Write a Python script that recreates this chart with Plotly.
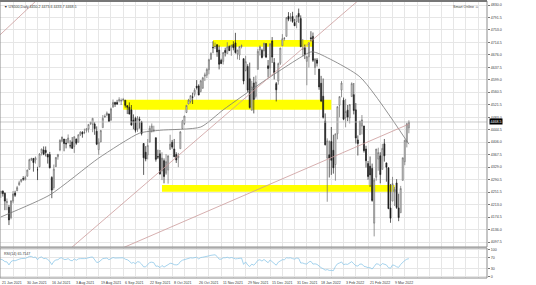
import plotly.graph_objects as go
import pandas as pd

# ---------------- data (US500 daily) ----------------
opens = [4242, 4248, 4255, 4248, 4220, 4205,
         4173, 4224, 4249, 4256, 4274, 4285, 4294, 4290,
         4301, 4322, 4352, 4356, 4351, 4321, 4330, 4373, 4382, 4381, 4369, 4368,
         4297, 4266, 4331, 4361, 4382, 4409, 4416, 4403, 4404, 4395,
         4407, 4393, 4416, 4406, 4429, 4437, 4436, 4442, 4447, 4464,
         4461, 4462, 4440, 4383, 4407, 4451, 4484, 4490, 4493, 4474,
         4514, 4529, 4529, 4534, 4533,
         4536, 4536, 4519, 4514, 4506, 4474, 4480, 4447, 4477, 4469,
         4402, 4375, 4367, 4406, 4439, 4442, 4420, 4362, 4370, 4317,
         4349, 4310, 4320, 4384, 4406, 4385, 4368, 4358, 4386, 4448,
         4464, 4498, 4524, 4532, 4546, 4554, 4579, 4580, 4563, 4573,
         4610, 4613, 4630, 4662, 4699, 4701, 4707, 4691, 4659, 4656,
         4690, 4680, 4702, 4700, 4708, 4713, 4679, 4675, 4702, 4664,
         4628, 4640, 4602, 4505, 4589, 4548, 4631, 4691, 4690, 4688,
         4711, 4642, 4636, 4719, 4652, 4587, 4595, 4650, 4704, 4726,
         4733, 4795, 4788, 4795, 4776,
         4779, 4804, 4788, 4693, 4698, 4656, 4670, 4729, 4733, 4637,
         4660, 4632, 4588, 4548, 4471, 4357, 4367, 4408, 4381, 4337,
         4432, 4520, 4567, 4536, 4482, 4505, 4481, 4547, 4553, 4506,
         4413, 4429, 4456, 4456, 4385, 4340, 4332, 4325, 4156, 4298,
         4354, 4364, 4322, 4401, 4342, 4327, 4203, 4224, 4253, 4280,
         4203, 4188, 4288, 4346, 4407, 4450.2]
highs = [4249, 4255, 4257, 4251, 4232, 4212,
         4226, 4255, 4256, 4271, 4287, 4292, 4301, 4302,
         4321, 4355, 4358, 4357, 4362, 4330, 4372, 4386, 4393, 4393, 4370, 4376,
         4301, 4337, 4360, 4370, 4415, 4423, 4416, 4416, 4430, 4412,
         4422, 4424, 4417, 4430, 4440, 4440, 4448, 4449, 4461, 4468,
         4480, 4468, 4455, 4418, 4444, 4490, 4492, 4501, 4495, 4513,
         4538, 4531, 4537, 4545, 4541,
         4543, 4536, 4521, 4529, 4521, 4492, 4485, 4487, 4485, 4472,
         4403, 4394, 4416, 4457, 4464, 4457, 4420, 4383, 4382, 4375,
         4356, 4369, 4365, 4429, 4413, 4416, 4375, 4373, 4440, 4475,
         4488, 4520, 4540, 4551, 4559, 4573, 4598, 4585, 4598, 4608,
         4621, 4635, 4664, 4684, 4718, 4714, 4709, 4705, 4664, 4685,
         4698, 4715, 4705, 4708, 4718, 4744, 4691, 4702, 4708, 4665,
         4673, 4647, 4652, 4596, 4608, 4612, 4694, 4705, 4695, 4713,
         4711, 4660, 4712, 4731, 4666, 4592, 4652, 4698, 4740, 4731,
         4792, 4808, 4805, 4809, 4787,
         4797, 4819, 4798, 4725, 4708, 4673, 4715, 4749, 4745, 4666,
         4666, 4632, 4611, 4603, 4495, 4418, 4411, 4453, 4429, 4432,
         4516, 4547, 4595, 4544, 4540, 4521, 4524, 4591, 4589, 4527,
         4427, 4472, 4490, 4457, 4395, 4348, 4362, 4340, 4295, 4385,
         4389, 4375, 4401, 4416, 4343, 4328, 4277, 4299, 4268, 4292,
         4247, 4271, 4358, 4412, 4466, 4473.6]
lows = [4233, 4234, 4238, 4196, 4196, 4150,
        4168, 4217, 4237, 4255, 4272, 4281, 4287, 4288,
        4300, 4321, 4348, 4315, 4340, 4289, 4329, 4365, 4366, 4362, 4340, 4325,
        4233, 4259, 4329, 4352, 4378, 4406, 4378, 4387, 4403, 4387,
        4385, 4373, 4398, 4405, 4425, 4420, 4431, 4436, 4436, 4459,
        4437, 4429, 4397, 4367, 4406, 4451, 4482, 4486, 4469, 4473,
        4514, 4515, 4521, 4529, 4521,
        4532, 4513, 4493, 4492, 4457, 4446, 4436, 4438, 4448, 4427,
        4305, 4347, 4353, 4406, 4436, 4437, 4346, 4354, 4306, 4289,
        4279, 4305, 4278, 4383, 4386, 4360, 4342, 4329, 4386, 4448,
        4459, 4496, 4524, 4526, 4524, 4547, 4569, 4551, 4560, 4571,
        4595, 4604, 4616, 4662, 4681, 4694, 4670, 4631, 4648, 4646,
        4671, 4680, 4688, 4673, 4690, 4680, 4662, 4660, 4696, 4585,
        4625, 4561, 4510, 4504, 4495, 4541, 4631, 4674, 4665, 4671,
        4666, 4606, 4611, 4651, 4600, 4532, 4584, 4645, 4704, 4720,
        4733, 4780, 4779, 4775, 4765,
        4758, 4775, 4700, 4671, 4663, 4582, 4637, 4718, 4654, 4614,
        4640, 4568, 4530, 4479, 4396, 4222, 4297, 4305, 4309, 4287,
        4415, 4483, 4545, 4474, 4452, 4471, 4464, 4547, 4492, 4402,
        4365, 4429, 4430, 4374, 4328, 4290, 4268, 4222, 4115, 4287,
        4318, 4279, 4322, 4346, 4284, 4199, 4157, 4224, 4209, 4200,
        4162, 4188, 4288, 4335, 4390, 4433.7]
closes = [4247, 4255, 4247, 4224, 4222, 4166,
          4225, 4246, 4242, 4266, 4281, 4291, 4292, 4297,
          4320, 4352, 4355, 4343, 4358, 4321, 4370, 4385, 4369, 4374, 4360, 4327,
          4258, 4323, 4359, 4368, 4412, 4422, 4402, 4401, 4419, 4395,
          4387, 4423, 4403, 4429, 4437, 4432, 4437, 4448, 4461, 4468,
          4480, 4448, 4400, 4406, 4442, 4480, 4486, 4496, 4470, 4509,
          4529, 4523, 4524, 4537, 4535,
          4538, 4520, 4514, 4493, 4459, 4469, 4443, 4481, 4474, 4433,
          4358, 4354, 4396, 4449, 4456, 4443, 4353, 4360, 4308, 4357,
          4300, 4346, 4364, 4400, 4391, 4361, 4351, 4364, 4438, 4471,
          4487, 4520, 4536, 4550, 4545, 4567, 4575, 4552, 4596, 4605,
          4614, 4631, 4661, 4680, 4698, 4702, 4685, 4647, 4649, 4683,
          4683, 4701, 4689, 4705, 4698, 4683, 4691, 4702, 4704, 4595,
          4655, 4567, 4513, 4577, 4538, 4592, 4687, 4701, 4668, 4712,
          4669, 4634, 4710, 4669, 4621, 4568, 4649, 4697, 4726, 4727,
          4791, 4786, 4793, 4779, 4766,
          4797, 4794, 4701, 4696, 4677, 4670, 4713, 4726, 4659, 4663,
          4650, 4577, 4533, 4483, 4398, 4410, 4357, 4350, 4327, 4432,
          4516, 4547, 4589, 4477, 4501, 4484, 4522, 4587, 4504, 4419,
          4402, 4471, 4475, 4380, 4349, 4300, 4305, 4226, 4289, 4385,
          4374, 4306, 4387, 4364, 4329, 4201, 4171, 4278, 4260, 4204,
          4173, 4263, 4358, 4412, 4463, 4468.5]
rsi14 = [62, 64, 61, 55, 54, 43,
         55, 59, 58, 62, 64, 66, 66, 67,
         70, 74, 74, 70, 72, 62, 70, 72, 66, 67, 63, 56,
         44, 56, 61, 62, 68, 69, 63, 63, 66, 60,
         58, 65, 60, 65, 66, 65, 66, 67, 70, 71,
         72, 62, 52, 53, 60, 66, 67, 68, 62, 67,
         70, 68, 68, 70, 69,
         69, 64, 62, 57, 49, 52, 47, 55, 53, 46,
         36, 36, 44, 52, 53, 51, 38, 39, 33, 41,
         35, 41, 44, 49, 48, 44, 43, 45, 55, 60,
         62, 66, 68, 69, 68, 70, 71, 65, 70, 71,
         72, 73, 76, 78, 80, 80, 74, 64, 64, 69,
         69, 71, 68, 70, 68, 65, 66, 67, 68, 45,
         54, 43, 37, 46, 42, 50, 60, 62, 57, 63,
         56, 51, 61, 55, 48, 42, 53, 59, 62, 62,
         69, 68, 69, 66, 64,
         68, 67, 50, 50, 47, 46, 54, 56, 46, 47,
         45, 37, 33, 29, 24, 26, 23, 23, 22, 37,
         47, 50, 54, 44, 46, 45, 49, 55, 47, 40,
         39, 46, 46, 38, 36, 33, 33, 28, 37, 47,
         46, 40, 48, 46, 43, 33, 31, 43, 41, 36,
         34, 45, 54, 59, 64, 65.7147]

sma50_dates = ["2021-06-14", "2021-07-16", "2021-08-19", "2021-09-16", "2021-09-30",
               "2021-10-28", "2021-11-12", "2021-12-10", "2022-01-12", "2022-01-17",
               "2022-02-15", "2022-03-21"]
sma50_vals = [4175, 4243, 4357, 4434, 4443, 4453, 4506, 4595, 4685, 4682, 4608, 4400]

trend_a_dates = ["2021-06-11", "2021-07-09"]
trend_a_vals = [4734, 4853]
trend_b_dates = ["2021-07-26", "2022-02-21"]
trend_b_vals = [4055, 4870]
trend_c_dates = ["2021-09-06", "2022-03-21"]
trend_c_vals = [4080, 4462]

zone_starts = ["2021-11-05", "2021-09-06", "2021-10-01"]
zone_ends = ["2022-01-13", "2022-01-26", "2022-03-10"]
zone_lows = [4701, 4506, 4253]
zone_highs = [4722, 4537, 4274]

price_ticks = [4830.0, 4791.5, 4753.0, 4714.5, 4676.0, 4637.5, 4599.0, 4560.5, 4521.5, 4483.0,
               4444.5, 4406.0, 4367.5, 4329.0, 4290.5, 4251.5, 4213.0, 4174.5, 4136.0, 4097.5]
rsi_ticks = [0, 30, 70, 100]
date_label_days = ["2021-06-21", "2021-06-30", "2021-07-16", "2021-08-03", "2021-08-19",
                   "2021-09-06", "2021-09-22", "2021-10-08", "2021-10-26", "2021-11-11",
                   "2021-11-29", "2021-12-15", "2021-12-31", "2022-01-18", "2022-02-03",
                   "2022-02-21", "2022-03-09"]
date_label_text = ["21 Jun 2021", "30 Jun 2021", "16 Jul 2021", "3 Aug 2021", "19 Aug 2021",
                   "6 Sep 2021", "22 Sep 2021", "8 Oct 2021", "26 Oct 2021", "11 Nov 2021",
                   "29 Nov 2021", "15 Dec 2021", "31 Dec 2021", "18 Jan 2022", "3 Feb 2022",
                   "21 Feb 2022", "9 Mar 2022"]

n = len(closes)
assert len(opens) == n and len(highs) == n and len(lows) == n and len(rsi14) == n
dates = pd.bdate_range("2021-06-11", periods=n)
assert dates[-1].strftime("%Y-%m-%d") == "2022-03-21", dates[-1]
pos = {d.strftime("%Y-%m-%d"): i for i, d in enumerate(dates)}
xs = list(range(n))

FONT = "Liberation Sans"
GRID = "#e6e6e6"
TXT = "#3a3a3a"
FS = 3.6

fig = go.Figure()

shapes = []
for s, e, lo, hi in zip(zone_starts, zone_ends, zone_lows, zone_highs):
    shapes.append(dict(type="rect", xref="x", yref="y", x0=pos[s], x1=pos[e], y0=lo, y1=hi,
                       fillcolor="#ffff00", line=dict(width=0), layer="between"))

fig.add_trace(go.Scatter(x=[pos[d] for d in sma50_dates], y=sma50_vals, mode="lines",
                         line=dict(color="#777777", width=0.8, shape="spline", smoothing=0.6),
                         xaxis="x", yaxis="y", hoverinfo="skip"))
for td, tv in [(trend_a_dates, trend_a_vals), (trend_b_dates, trend_b_vals), (trend_c_dates, trend_c_vals)]:
    fig.add_trace(go.Scatter(x=[pos[d] for d in td], y=tv, mode="lines",
                             line=dict(color="#cc9a9a", width=0.8),
                             xaxis="x", yaxis="y", hoverinfo="skip"))

fig.add_trace(go.Candlestick(x=xs, open=opens, high=highs, low=lows, close=closes,
                             increasing=dict(line=dict(color="#6a6a6a", width=0.7), fillcolor="#ffffff"),
                             decreasing=dict(line=dict(color="#1a1a1a", width=0.7), fillcolor="#1a1a1a"),
                             whiskerwidth=0, xaxis="x", yaxis="y", hoverinfo="skip"))

fig.add_trace(go.Scatter(x=xs, y=rsi14, mode="lines", line=dict(color="#8ec8e8", width=0.8),
                         xaxis="x", yaxis="y2", hoverinfo="skip"))

last = closes[-1]
shapes.append(dict(type="line", xref="paper", yref="y", x0=0, x1=1, y0=last, y1=last,
                   line=dict(color="#bdbdbd", width=0.8)))

PR_BOT = 31 / 277
RSI_TOP = 30 / 277
shapes.append(dict(type="rect", xref="paper", yref="paper", x0=0, x1=1, y0=PR_BOT, y1=1,
                   line=dict(color="#8c8c8c", width=1)))
shapes.append(dict(type="rect", xref="paper", yref="paper", x0=0, x1=1, y0=0, y1=RSI_TOP,
                   line=dict(color="#8c8c8c", width=1)))
shapes.append(dict(type="line", xref="paper", yref="paper", x0=0, x1=1, y0=1, y1=1,
                   line=dict(color="#777777", width=2)))

ann = []
for d, t in zip(date_label_days, date_label_text):
    xpos = pos[d] if d != "2021-06-21" else 0.8
    ann.append(dict(x=xpos, y=0, xref="x", yref="paper", text=t, showarrow=False,
                    xanchor="left", yanchor="top", yshift=-1,
                    font=dict(size=FS, color=TXT, family=FONT)))
ann.append(dict(x=0.004, y=1, xref="paper", yref="paper", yshift=-2,
                text=f"▼ US500,Daily {opens[-1]:.1f} {highs[-1]:.1f} {lows[-1]:.1f} {closes[-1]:.1f}",
                showarrow=False, xanchor="left", yanchor="top",
                font=dict(size=FS, color=TXT, family=FONT)))
ann.append(dict(x=0.988, y=1, xref="paper", yref="paper", yshift=-2,
                text="Smart Online ☺", showarrow=False, xanchor="right", yanchor="top",
                font=dict(size=FS, color=TXT, family=FONT)))
ann.append(dict(x=0.004, y=RSI_TOP, xref="paper", yref="paper", yshift=-2,
                text=f"RSI(14) {rsi14[-1]:.4f}", showarrow=False, xanchor="left", yanchor="top",
                font=dict(size=FS, color=TXT, family=FONT)))
ann.append(dict(x=1, y=last, xref="paper", yref="y", text=f"{last:.1f}", showarrow=False,
                xanchor="left", yanchor="middle", xshift=2, bgcolor="#000000", borderpad=0.5,
                font=dict(size=FS, color="#ffffff", family=FONT)))

fig.update_layout(
    width=536, height=285,
    margin=dict(l=0, r=49, t=1, b=7),
    paper_bgcolor="white", plot_bgcolor="white",
    showlegend=False,
    font=dict(family=FONT, size=FS, color=TXT),
    xaxis=dict(range=[0.61, 239.3], tickvals=list(range(1, 240, 6)), showticklabels=False,
               showgrid=True, gridcolor=GRID, gridwidth=1, zeroline=False, ticks="",
               rangeslider=dict(visible=False), anchor="y2", fixedrange=True),
    yaxis=dict(domain=[PR_BOT, 1], range=[4082.2, 4842.4], side="right",
               tickvals=price_ticks, ticktext=[f"{v:.1f}" for v in price_ticks],
               tickfont=dict(size=FS, color=TXT, family=FONT),
               ticks="outside", ticklen=2, tickcolor="#777777",
               showgrid=True, gridcolor=GRID, gridwidth=1, zeroline=False, anchor="x"),
    yaxis2=dict(domain=[0, RSI_TOP], range=[-4.7, 104.7], side="right",
                tickvals=rsi_ticks, ticktext=[str(v) for v in rsi_ticks],
                tickfont=dict(size=FS, color=TXT, family=FONT),
                ticks="outside", ticklen=2, tickcolor="#777777",
                showgrid=True, gridcolor=GRID, zeroline=False, anchor="x"),
    shapes=shapes,
    annotations=ann,
)

fig.write_html("out.html")
